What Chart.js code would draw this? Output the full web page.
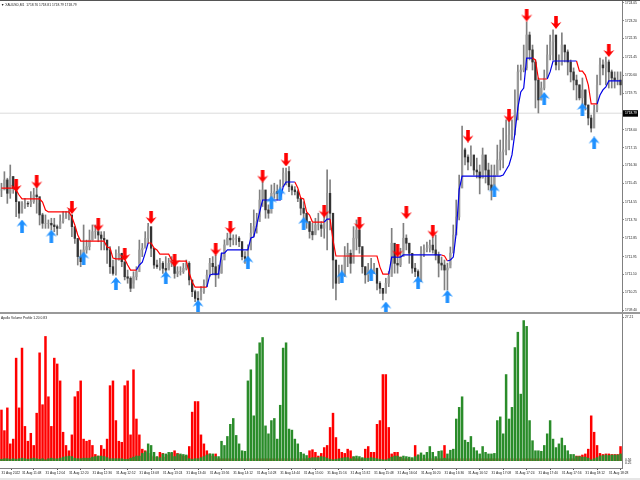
<!DOCTYPE html>
<html>
<head>
<meta charset="utf-8">
<script src="https://cdn.jsdelivr.net/npm/chart.js@4"></script>
<style>
html,body{margin:0;padding:0;background:#fff;width:640px;height:480px;overflow:hidden}
canvas{position:absolute;left:0}
#price{top:1px}
#volume{top:314px}
.rule{position:absolute;left:0;width:640px}
.cap{position:absolute;font:3.3px "Liberation Sans",sans-serif;color:#222;white-space:pre}
</style>
</head>
<body>
<div class="rule" style="top:0;height:1px;background:#555"></div>
<div class="rule" style="top:312px;height:2px;background:#999"></div>
<div class="rule" style="top:478px;height:2px;background:#e6e6e6"></div>
<canvas id="price" width="640" height="311"></canvas>
<canvas id="volume" width="640" height="164"></canvas>
<div class="cap" style="left:1px;top:3px">▼ XAUUSD,M1  1718.76 1718.81 1718.79 1718.79</div>
<div class="cap" style="left:1px;top:316px">Apollo Volume Profile 1.20 0.83</div>
<script>
// TICKS
const priceTicks=[1724.05,1723.20,1722.35,1721.45,1720.60,1719.75,1718.00,1717.15,1716.30,1715.45,1714.55,1713.70,1712.85,1711.95,1711.10,1710.25,1709.40];
const lastPrice=1718.79;
const volumeTicks=[27.21];
const volumeFloorLabels=["0.56","0.25"];
const timeTickBars=[0,7,15,23,31,39,47,55,63,71,79,87,95,103,111,119,127,135,143,151,159,167,175,183,191,199,207];
const timeLabels=["31 Aug 2022","31 Aug 11:48","31 Aug 12:04","31 Aug 12:20","31 Aug 12:36","31 Aug 12:52","31 Aug 13:08","31 Aug 13:24","31 Aug 13:40","31 Aug 13:56","31 Aug 14:12","31 Aug 14:28","31 Aug 14:44","31 Aug 15:00","31 Aug 15:16","31 Aug 15:32","31 Aug 15:48","31 Aug 16:04","31 Aug 16:20","31 Aug 16:36","31 Aug 16:52","31 Aug 17:08","31 Aug 17:24","31 Aug 17:40","31 Aug 17:56","31 Aug 18:12","31 Aug 18:28"];

// CANDLES
const highs=[
1715.45,1716.00,1715.69,1716.32,1715.77,1715.45,1714.33,1714.57,1714.73,1714.57,
1715.05,1715.21,1715.45,1714.49,1714.02,1713.94,1713.70,1713.78,1713.78,1713.46,
1713.94,1714.10,1714.10,1714.17,1713.86,1713.30,1712.74,1712.27,1713.46,1712.74,
1713.22,1713.46,1713.46,1713.38,1713.14,1713.14,1712.74,1712.43,1711.79,1712.27,
1712.43,1712.11,1711.63,1711.31,1710.99,1711.23,1711.47,1712.74,1712.58,1713.14,
1713.54,1712.74,1712.11,1711.79,1711.87,1711.71,1711.95,1711.87,1711.95,1711.63,
1711.47,1711.47,1711.63,1711.79,1711.71,1710.68,1710.36,1710.28,1710.52,1710.84,
1711.31,1711.87,1711.95,1712.03,1711.55,1712.11,1712.75,1713.07,1713.07,1712.99,
1712.99,1712.91,1712.43,1712.19,1712.51,1713.54,1714.18,1714.02,1715.13,1715.53,
1714.65,1714.42,1715.37,1715.45,1715.37,1715.61,1716.17,1716.17,1716.24,1715.37,
1715.29,1715.13,1714.73,1714.57,1714.02,1713.62,1713.54,1713.78,1714.02,1713.62,
1714.02,1716.09,1715.61,1713.62,1711.63,1711.55,1711.55,1712.43,1712.59,1712.27,
1713.38,1713.70,1713.78,1712.27,1711.47,1711.63,1711.87,1711.63,1711.32,1710.76,
1710.44,1710.92,1711.24,1713.30,1712.11,1711.95,1712.35,1713.54,1712.99,1712.59,
1711.63,1711.63,1711.32,1712.43,1712.51,1712.65,1712.74,1712.89,1712.98,1712.17,
1711.93,1711.79,1711.64,1712.41,1713.46,1714.65,1715.84,1718.18,1717.13,1716.80,
1717.23,1716.56,1716.65,1716.32,1717.13,1716.56,1716.41,1716.32,1716.32,1717.27,
1717.51,1718.08,1718.47,1718.47,1718.47,1719.90,1721.09,1721.09,1722.04,1723.14,
1722.66,1722.04,1721.33,1720.47,1720.28,1720.85,1722.04,1722.52,1722.76,1722.04,
1721.57,1722.62,1722.04,1721.81,1721.33,1720.95,1720.61,1720.14,1720.47,1719.90,
1719.18,1718.70,1719.18,1720.61,1721.42,1721.33,1721.47,1721.33,1720.85,1720.76,
1720.76,1720.76];
const lows=[
1714.81,1715.29,1714.49,1714.73,1714.97,1713.86,1713.78,1714.10,1714.25,1714.33,
1714.33,1714.49,1714.02,1713.46,1713.30,1713.30,1713.30,1713.22,1713.14,1712.98,
1713.30,1713.54,1713.78,1713.70,1712.90,1712.58,1711.55,1711.47,1711.63,1712.11,
1712.27,1712.74,1712.82,1712.66,1712.27,1712.27,1711.63,1711.15,1711.07,1711.07,
1711.79,1711.47,1710.84,1710.68,1710.28,1710.68,1710.84,1711.63,1711.95,1712.43,
1712.58,1711.95,1711.39,1711.39,1711.31,1711.15,1710.68,1711.39,1711.47,1710.92,
1710.99,1711.07,1711.15,1711.31,1710.60,1710.04,1709.80,1709.56,1709.96,1710.20,
1710.52,1710.99,1711.08,1710.52,1710.92,1711.16,1711.95,1712.51,1712.43,1712.51,
1712.51,1712.43,1711.79,1711.63,1711.87,1712.35,1712.91,1713.07,1713.86,1714.34,
1713.78,1713.78,1714.34,1714.73,1714.65,1714.65,1715.37,1715.37,1715.05,1714.89,
1714.89,1714.57,1713.94,1713.70,1713.30,1712.83,1712.75,1713.07,1713.22,1712.91,
1712.83,1712.27,1713.22,1710.44,1709.89,1710.68,1710.76,1711.00,1711.47,1711.16,
1712.27,1712.27,1712.11,1711.16,1710.68,1710.76,1710.92,1711.16,1710.36,1710.20,
1709.89,1710.36,1710.52,1711.16,1711.16,1711.16,1711.47,1712.27,1712.27,1711.63,
1711.16,1711.00,1710.52,1710.92,1711.95,1712.17,1712.17,1712.12,1711.79,1710.98,
1711.31,1710.36,1710.36,1711.55,1712.27,1713.22,1713.70,1716.32,1716.32,1716.08,
1716.27,1715.84,1715.70,1714.94,1715.70,1715.46,1715.13,1714.65,1715.27,1715.84,
1716.08,1716.18,1716.80,1717.04,1717.51,1717.75,1718.47,1720.37,1720.76,1720.85,
1721.33,1720.85,1719.04,1718.80,1719.42,1719.90,1720.61,1721.33,1721.33,1720.85,
1720.85,1721.09,1721.23,1720.61,1720.28,1719.90,1719.42,1719.42,1719.18,1718.94,
1718.23,1717.89,1718.23,1718.85,1720.37,1720.61,1720.14,1719.99,1719.99,1719.99,
1720.14,1719.66];
const closes=[
1715.13,1715.61,1714.97,1715.77,1715.21,1714.57,1714.02,1714.33,1714.49,1714.46,
1714.57,1714.89,1714.81,1713.94,1713.54,1713.54,1713.54,1713.46,1713.38,1713.30,
1713.62,1713.78,1713.94,1713.94,1713.38,1712.82,1711.95,1711.71,1712.27,1712.43,
1712.74,1713.14,1713.14,1712.98,1712.82,1712.74,1712.27,1711.47,1711.15,1711.79,
1712.11,1711.71,1710.99,1710.92,1710.44,1710.99,1711.23,1712.27,1712.35,1712.82,
1713.38,1712.35,1711.55,1711.47,1711.63,1711.39,1711.31,1711.63,1711.79,1711.15,
1711.23,1711.23,1711.39,1711.63,1710.84,1710.28,1709.96,1709.88,1710.28,1710.60,
1711.07,1711.63,1711.47,1711.08,1711.16,1711.79,1712.51,1712.83,1712.75,1712.83,
1712.83,1712.67,1711.95,1711.87,1712.27,1713.07,1713.38,1713.62,1714.65,1715.13,
1714.18,1714.02,1714.97,1715.05,1714.97,1715.29,1715.93,1716.01,1715.29,1715.13,
1715.05,1714.73,1714.26,1714.02,1713.62,1713.15,1712.99,1713.46,1713.46,1713.30,
1713.70,1714.97,1714.02,1711.79,1710.68,1711.00,1711.08,1711.95,1712.11,1711.63,
1712.83,1713.22,1712.43,1711.47,1711.08,1711.32,1711.16,1711.40,1710.68,1710.44,
1710.20,1710.68,1711.00,1712.59,1711.63,1711.55,1711.95,1712.83,1712.59,1712.11,
1711.40,1711.24,1710.76,1712.11,1712.27,1712.36,1712.50,1712.27,1712.03,1711.64,
1711.55,1711.31,1711.41,1712.12,1712.98,1713.84,1715.22,1717.04,1716.70,1716.46,
1716.80,1716.08,1715.99,1715.70,1716.80,1716.08,1715.37,1715.13,1715.84,1716.56,
1716.94,1717.04,1717.51,1717.75,1717.99,1718.94,1720.76,1720.85,1720.95,1722.52,
1721.81,1721.23,1720.37,1719.42,1719.99,1720.47,1721.57,1722.19,1722.52,1721.09,
1721.09,1722.04,1721.71,1721.23,1720.76,1720.37,1720.14,1719.52,1719.90,1719.18,
1718.56,1718.08,1718.94,1720.14,1721.09,1720.95,1721.23,1720.76,1720.47,1720.37,
1720.37,1720.14];

// STEP LINE
const trendLine=[
1715.22,1715.22,1715.22,1715.22,1715.22,1715.13,1714.89,1714.70,1714.70,1714.70,
1714.70,1714.70,1714.70,1714.70,1714.55,1714.17,1714.08,1714.08,1714.08,1714.08,
1714.08,1714.08,1714.08,1714.08,1713.84,1713.46,1712.98,1712.69,1712.69,1712.69,
1712.69,1712.69,1712.69,1712.69,1712.69,1712.69,1712.41,1712.36,1711.88,1711.84,
1711.84,1711.84,1711.84,1711.55,1711.31,1711.31,1711.31,1711.55,1711.69,1712.12,
1712.60,1712.60,1712.36,1712.27,1712.07,1712.07,1712.07,1712.07,1711.79,1711.74,
1711.74,1711.74,1711.74,1711.74,1711.17,1710.74,1710.50,1710.50,1710.50,1710.50,
1710.50,1711.07,1711.12,1711.12,1711.12,1712.12,1712.12,1712.27,1712.27,1712.27,
1712.27,1712.27,1712.27,1712.27,1712.27,1712.84,1712.89,1713.46,1714.08,1714.65,
1714.65,1714.65,1714.65,1714.65,1714.65,1714.65,1715.27,1715.51,1715.51,1715.51,
1715.51,1715.22,1714.75,1714.70,1714.08,1713.93,1713.60,1713.60,1713.60,1713.60,
1713.60,1713.74,1713.74,1712.74,1711.98,1711.98,1711.98,1711.98,1711.98,1711.98,
1711.98,1711.98,1711.98,1711.98,1711.98,1711.98,1711.98,1711.98,1711.98,1711.45,
1711.12,1711.12,1711.12,1711.93,1711.93,1711.93,1711.93,1712.03,1712.03,1712.03,
1712.03,1712.03,1712.03,1712.03,1712.03,1712.03,1712.03,1712.03,1712.03,1712.03,
1712.03,1711.98,1711.74,1711.79,1711.93,1713.08,1715.13,1715.79,1715.79,1715.79,
1715.79,1715.79,1715.79,1715.79,1715.79,1715.79,1715.79,1715.79,1715.79,1715.79,
1715.79,1715.84,1716.08,1716.32,1716.80,1717.85,1719.04,1719.80,1719.99,1721.42,
1721.42,1721.42,1721.33,1720.42,1720.42,1720.42,1720.42,1720.76,1721.28,1721.28,
1721.28,1721.28,1721.28,1721.28,1721.28,1721.28,1721.28,1720.80,1720.80,1720.61,
1720.14,1719.23,1719.23,1719.23,1719.66,1719.90,1720.04,1720.33,1720.33,1720.33,
1720.33,1720.33];
const trendUpRuns=[[47,50],[71,100],[111,112],[133,150],[153,181],[187,196],[204,211]];

// ARROWS
const downArrowBars=[5,12,24,33,42,51,59,73,78,89,97,110,122,135,138,147,159,173,179,189,207];
const downArrowPrices=[1715.34,1715.51,1714.29,1713.46,1712.05,1713.82,1711.76,1712.31,1713.34,1715.79,1716.56,1714.12,1713.53,1712.22,1714.05,1713.17,1717.70,1718.66,1723.47,1723.12,1721.78];
const upArrowBars=[7,17,28,39,56,67,84,92,95,103,116,126,131,142,152,168,185,198,202];
const upArrowPrices=[1713.41,1712.93,1711.88,1710.67,1710.95,1709.59,1711.69,1714.55,1714.94,1713.53,1710.98,1711.10,1709.50,1710.71,1710.05,1715.08,1719.49,1718.97,1717.37];

// VOLUME
const redVolume=[
9.7,5.8,10.1,3.3,4.2,19.5,10.1,21.4,6.6,3.8,
5.3,3.0,9.1,20.5,10.7,23.6,12.2,6.6,19.5,18.4,
15.2,5.5,3.0,2.0,5.0,12.2,13.2,15.2,4.2,3.8,
4.0,3.0,1.3,1.0,3.0,2.3,4.2,14.3,15.2,7.7,
3.8,3.6,14.3,15.2,5.0,17.3,8.0,5.0,2.3,2.0,
1.5,1.0,0.8,0.8,1.7,1.5,0.8,1.2,1.5,2.0,
1.5,1.2,1.0,1.0,2.8,9.3,11.3,11.3,5.0,3.3,
2.0,1.4,1.0,1.4,0.5,0.5,0.5,0.5,0.5,0.5,
0.5,0.5,0.5,0.5,0.5,0.5,0.5,0.5,0.5,0.5,
0.5,0.5,0.5,0.5,0.5,0.5,0.5,0.5,0.5,0.5,
0.5,0.5,0.5,0.5,0.5,2.0,2.2,1.7,1.0,1.5,
2.6,3.0,6.4,9.1,4.5,2.3,1.7,1.5,2.3,2.0,
0.8,0.5,0.5,0.5,2.3,2.8,1.7,1.7,7.0,7.7,
16.4,16.4,6.4,1.4,1.7,1.7,0.8,0.5,0.5,0.5,
0.5,3.0,1.2,0.5,0.5,0.5,0.5,0.5,0.5,0.5,
0.5,3.0,0.5,0.5,0.5,0.5,0.5,0.5,0.5,0.5,
0.5,0.5,0.5,0.5,0.5,0.5,0.5,0.5,0.5,0.5,
0.5,0.5,0.5,0.5,0.5,0.5,0.5,0.5,0.5,0.5,
0.5,0.5,0.5,0.5,0.5,0.5,0.5,0.5,0.5,0.5,
0.5,0.5,0.5,0.5,0.5,0.5,1.0,1.0,1.2,1.4,
2.3,8.6,5.5,3.0,1.5,1.3,1.4,1.4,1.3,1.3,
1.3,2.8];
const greenVolume=[
0.4,0.5,0.5,0.4,0.5,0.4,0.5,0.6,0.5,0.4,
0.5,0.6,0.5,0.4,0.5,0.3,0.5,0.6,0.5,0.5,
0.6,0.8,0.9,1.0,0.9,0.6,0.5,0.5,0.6,0.6,
0.6,0.8,0.9,1.0,1.0,0.9,0.7,0.5,0.5,0.5,
0.5,0.5,0.4,0.4,0.6,0.8,1.0,1.0,1.5,1.8,
3.3,3.0,1.7,0.9,0.7,1.4,1.4,1.7,1.7,0.9,
1.4,1.4,1.3,1.2,0.5,0.4,0.5,0.5,0.7,0.9,
1.2,1.4,1.4,0.9,0.9,3.8,3.0,4.7,7.0,8.1,
4.9,3.3,2.0,1.9,15.2,17.3,8.6,20.3,22.4,23.4,
6.7,5.2,7.7,8.1,4.2,10.6,21.4,22.4,6.1,5.9,
4.2,3.3,1.7,1.4,1.1,0.6,0.7,0.7,0.7,0.9,
0.8,0.6,0.4,0.3,0.4,0.5,0.6,0.7,0.7,0.5,
0.9,1.0,0.9,0.7,0.6,0.6,0.7,0.6,0.5,0.4,
0.3,0.3,0.5,0.8,1.0,1.0,0.8,1.0,0.9,0.8,
0.7,0.9,1.2,1.6,1.2,1.7,2.8,1.7,0.9,1.9,
2.0,0.6,1.4,2.1,2.3,8.0,10.2,12.2,4.0,3.6,
4.7,2.6,2.0,1.4,2.8,1.7,1.4,1.4,1.5,7.7,
8.4,5.2,16.4,8.0,10.2,21.5,24.4,12.7,26.6,25.5,
7.7,3.9,2.0,2.0,1.9,3.0,5.2,7.7,4.2,2.6,
3.3,4.4,3.0,2.0,1.3,1.3,0.9,0.9,0.8,0.8,
0.6,0.3,0.5,0.7,1.0,1.1,1.2,1.1,1.2,1.2,
1.2,1.4];

const bars=closes.map((c,i)=>i);
const tickFont={family:'"Liberation Sans",sans-serif',size:3.3};
const INK="#222";

function sparse(idx,vals){
  const out=bars.map(()=>null);
  idx.forEach((b,i)=>{out[b]=vals[i];});
  return out;
}
function isTrendUp(i){
  return trendUpRuns.some(r=>i>=r[0]&&i<=r[1]);
}

// arrow glyph used as point style
function arrowGlyph(color,down){
  const c=document.createElement("canvas");
  c.width=12;c.height=13;
  const g=c.getContext("2d");
  if(down){g.translate(0,13);g.scale(1,-1);}
  g.fillStyle=color;
  g.beginPath();
  g.moveTo(6,0);
  g.lineTo(11.5,7);
  g.lineTo(7.8,5.2);
  g.lineTo(7.8,13);
  g.lineTo(4.2,13);
  g.lineTo(4.2,5.2);
  g.lineTo(0.5,7);
  g.closePath();
  g.fill();
  return c;
}

// bid line + black price tag
const lastPricePlugin={
  id:"lastPrice",
  beforeDatasetsDraw(chart){
    const y=chart.scales.y.getPixelForValue(lastPrice);
    const g=chart.ctx;
    g.save();
    g.fillStyle="#dcdcdc";
    g.fillRect(0,y-0.5,chart.chartArea.right,1);
    g.restore();
  },
  afterDraw(chart){
    const y=chart.scales.y.getPixelForValue(lastPrice);
    const g=chart.ctx;
    g.save();
    g.fillStyle="#000";
    g.fillRect(623,y-3,15,6.5);
    g.fillStyle="#fff";
    g.font='3.3px "Liberation Sans",sans-serif';
    g.textBaseline="middle";
    g.fillText(lastPrice.toFixed(2),625,y+0.3);
    g.restore();
  }
};

// two low labels sit under the bars, tick spacing would stack them
const volumeFloorPlugin={
  id:"volumeFloor",
  afterDraw(chart){
    const y=chart.scales.y.getPixelForValue(0);
    const g=chart.ctx;
    g.save();
    g.fillStyle=INK;
    g.font='3.3px "Liberation Sans",sans-serif';
    g.textBaseline="middle";
    g.fillText(volumeFloorLabels[0],625,y-1);
    g.fillText(volumeFloorLabels[1],625,y+2);
    g.restore();
  }
};

function rightAxis(min,max,ticks,fmt){
  return {
    position:"right",min:min,max:max,
    grid:{drawOnChartArea:false,tickLength:2,color:"#888"},
    border:{color:"#808080"},
    ticks:{font:tickFont,color:INK,padding:1,autoSkip:false,callback:fmt},
    afterBuildTicks:s=>{s.ticks=ticks.map(v=>({value:v}));},
    afterFit:s=>{s.width=18;s.paddingTop=0;s.paddingBottom=0;}
  };
}

// PRICE
new Chart(document.getElementById("price"),{
  data:{
    labels:bars,
    datasets:[
      {type:"line",data:sparse(downArrowBars,downArrowPrices),showLine:false,order:1,clip:false,
       pointStyle:arrowGlyph("#ff0000",true),pointRadius:6},
      {type:"line",data:sparse(upArrowBars,upArrowPrices),showLine:false,order:1,clip:false,
       pointStyle:arrowGlyph("#1e90ff",false),pointRadius:6},
      {type:"line",data:trendLine,order:2,borderWidth:1.2,pointRadius:0,tension:0,
       borderColor:"#ff0000",
       segment:{borderColor:c=>isTrendUp(c.p1DataIndex)?"#0000e6":"#ff0000"}},
      {type:"bar",data:closes.map((c,i)=>[i?closes[i-1]:c,c]),order:3,barThickness:1.6,grouped:false,
       backgroundColor:closes.map((c,i)=>(i&&c<closes[i-1])?"#333333":"#9a9a9a")},
      {type:"bar",data:lows.map((l,i)=>[l,highs[i]]),order:4,barThickness:1,grouped:false,
       backgroundColor:"#808080"}
    ]
  },
  options:{
    responsive:false,animation:false,devicePixelRatio:1,
    layout:{padding:0,autoPadding:false},
    plugins:{legend:{display:false},tooltip:{enabled:false}},
    scales:{
      x:{display:false,stacked:true},
      y:rightAxis(1709.31,1724.14,priceTicks,v=>v.toFixed(2))
    }
  },
  plugins:[lastPricePlugin]
});

// VOLUME PANEL
new Chart(document.getElementById("volume"),{
  data:{
    labels:bars,
    datasets:[
      {type:"bar",data:greenVolume,order:1,backgroundColor:"#2a8c2a",barPercentage:0.85,categoryPercentage:1},
      {type:"bar",data:redVolume,order:2,backgroundColor:"#ff0000",barPercentage:0.85,categoryPercentage:1}
    ]
  },
  options:{
    responsive:false,animation:false,devicePixelRatio:1,
    layout:{padding:0,autoPadding:false},
    plugins:{legend:{display:false},tooltip:{enabled:false}},
    scales:{
      x:{
        stacked:true,
        grid:{drawOnChartArea:false,tickLength:2,color:"#555"},
        border:{color:"#808080"},
        ticks:{font:tickFont,color:INK,padding:1,align:"start",autoSkip:false,maxRotation:0,
               callback:(v,i)=>timeLabels[i]},
        afterBuildTicks:s=>{s.ticks=timeTickBars.map(v=>({value:v}));},
        afterFit:s=>{s.height=10;s.paddingLeft=0;s.paddingRight=0;}
      },
      y:rightAxis(-1.32,27.78,volumeTicks,v=>v.toFixed(2))
    }
  },
  plugins:[volumeFloorPlugin]
});
</script>
</body>
</html>
